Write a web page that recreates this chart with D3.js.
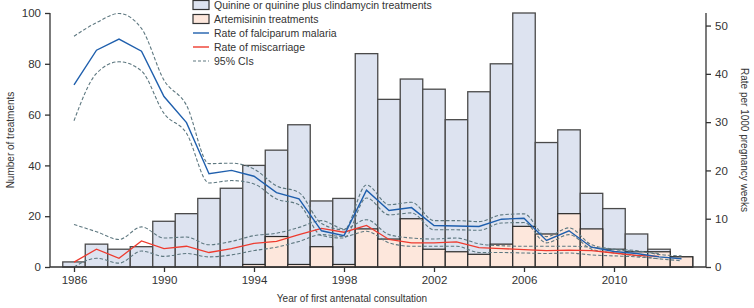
<!DOCTYPE html>
<html><head><meta charset="utf-8">
<script src="https://cdn.jsdelivr.net/npm/d3@7"></script>
<style>
body{margin:0;background:#fff;}
text{font-family:"Liberation Sans","DejaVu Sans",sans-serif;fill:#333;}
</style></head>
<body><svg id="c" width="754" height="308"></svg>
<script>
const years = d3.range(1986, 2014);
const quinine = [2,9,7,8,18,21,27,31,40,46,56,26,27,84,66,74,70,58,69,80,100,49,54,29,23,13,7,4];
const artemisinin = [0,0,0,0,0,0,0,0,1,12,1,8,1,15,11,19,7,6,5,9,16,13,21,15,7,6,6,4];
const malaria = [37.7,44.9,47.2,44.7,35.3,29.9,19.3,20.0,18.8,15.4,14.1,7.5,6.5,15.9,11.7,12.3,8.6,8.5,8.4,9.9,10.1,5.5,7.5,4.1,3.2,2.8,2.1,1.7];
const malariaHi = [47.8,50.6,52.5,49.4,38.7,33.5,21.4,21.5,20.3,16.8,15.4,9.0,7.7,17.0,12.9,13.4,9.6,9.6,9.4,10.8,11.0,6.3,8.1,4.6,3.7,3.4,2.6,2.3];
const malariaLo = [30.3,40.1,42.5,40.6,31.8,27.7,17.4,17.9,17.2,14.1,12.9,6.5,6.0,14.3,10.8,11.2,7.7,7.7,7.6,9.1,9.2,5.0,6.7,3.7,2.9,2.3,1.7,1.3];
const miscarriage = [1.0,3.7,1.8,5.4,3.8,4.3,3.0,3.8,4.9,5.3,6.7,8.0,7.2,8.6,5.7,5.0,5.0,5.2,4.0,3.8,3.6,3.4,3.5,3.4,2.9,2.4,2.2];
const miscarriageHi = [8.8,7.3,5.7,8.3,6.0,6.2,4.6,5.3,6.5,7.0,8.2,9.6,7.9,9.8,6.7,6.0,5.8,6.0,4.8,4.4,4.3,4.3,4.3,4.1,3.6,3.2,2.8];
const miscarriageLo = [0.0,1.8,0.8,3.3,2.2,2.8,2.1,2.5,3.4,4.1,5.3,6.7,6.3,7.4,5.0,4.3,4.3,4.3,3.0,3.0,2.9,2.8,2.9,2.5,2.3,2.1,1.7];
const xTicks = [1986,1990,1994,1998,2002,2006,2010];
const leftTicks = [0,20,40,60,80,100];
const rightTicks = [0,10,20,30,40,50];
const legendLabels = ["Quinine or quinine plus clindamycin treatments","Artemisinin treatments","Rate of falciparum malaria","Rate of miscarriage","95% CIs"];

const svg = d3.select("#c");
const L = 50, R = 706, T = 13, B = 267;
const x = d3.scaleLinear().domain([1986, 2013]).range([74, 681.5]);
const yL = d3.scaleLinear().domain([0, 100]).range([B, T]);
const yR = d3.scaleLinear().domain([0, 52.6]).range([B, T]);
const bw = x(1987) - x(1986);

const cQ = "#dde3f0", cA = "#fde7dc", cBlue = "#1f5fad", cRed = "#ee3b2f", cCI = "#5e7880", cStroke = "#4a4a4a";

// bars
svg.append("g").selectAll("rect").data(years).join("rect")
  .attr("x", (d) => x(d) - bw/2).attr("width", bw)
  .attr("y", (d,i) => yL(quinine[i])).attr("height", (d,i) => B - yL(quinine[i]))
  .attr("fill", cQ).attr("stroke", cStroke).attr("stroke-width", 1.3);
svg.append("g").selectAll("rect").data(years.filter((d,i)=>artemisinin[i]>0)).join("rect")
  .attr("x", (d) => x(d) - bw/2).attr("width", bw)
  .attr("y", (d) => yL(artemisinin[years.indexOf(d)])).attr("height", (d) => B - yL(artemisinin[years.indexOf(d)]))
  .attr("fill", cA).attr("stroke", "#2a2a2a").attr("stroke-width", 1.2);

// lines
const lineR = (arr, curve) => d3.line().x((d,i)=>x(years[i])).y(d=>yR(d)).curve(curve)(arr);
const ciCurve = d3.curveMonotoneX;
[miscarriageHi, miscarriageLo, malariaHi, malariaLo].forEach(a => {
  svg.append("path").attr("d", lineR(a, ciCurve)).attr("fill","none")
    .attr("stroke", cCI).attr("stroke-width", 1.1).attr("stroke-dasharray","3.5,2");
});
svg.append("path").attr("d", lineR(miscarriage, d3.curveLinear)).attr("fill","none").attr("stroke", cRed).attr("stroke-width",1.3);
svg.append("path").attr("d", lineR(malaria, d3.curveLinear)).attr("fill","none").attr("stroke", cBlue).attr("stroke-width",1.4);

// axes
const gL = svg.append("g").attr("transform",`translate(${L},0)`)
  .call(d3.axisLeft(yL).tickValues(leftTicks).tickSize(5).tickPadding(4));
const gR = svg.append("g").attr("transform",`translate(${R},0)`)
  .call(d3.axisRight(yR).tickValues(rightTicks).tickSize(5).tickPadding(4));
const gB = svg.append("g").attr("transform",`translate(0,${B})`)
  .call(d3.axisBottom(x).tickValues(xTicks).tickFormat(d3.format("d")).tickSize(5).tickPadding(4));
gB.select(".domain").attr("d", `M${L},0H${R}`);
[gL,gR,gB].forEach(g => {
  g.selectAll("path.domain, line").attr("stroke","#333").attr("stroke-width",1.3);
  g.selectAll("text").attr("font-size", 11.5).attr("fill","#444").style("font-family","Liberation Sans, sans-serif");
});
gL.select(".domain").attr("d", `M0,${T}V${B}`);
gR.select(".domain").attr("d", `M0,${T}V${B}`);

// titles
svg.append("text").attr("transform",`translate(10,${(T+B)/2}) rotate(-90)`).attr("text-anchor","middle")
  .attr("font-size",10).attr("dy","0.35em").text("Number of treatments");
svg.append("text").attr("transform",`translate(744,${(T+B)/2}) rotate(90)`).attr("text-anchor","middle")
  .attr("font-size",10).attr("dy","0.35em").text("Rate per 1000 pregnancy weeks");
svg.append("text").attr("x", 352).attr("y", 302).attr("text-anchor","middle")
  .attr("font-size",10).text("Year of first antenatal consultation");

// legend
const lx = 193, ly0 = 5, ldy = 14;
const lg = svg.append("g");
legendLabels.forEach((t,i) => {
  const yy = ly0 + i*ldy;
  if (i < 2) {
    lg.append("rect").attr("x",lx).attr("y",yy-4.5).attr("width",16).attr("height",9)
      .attr("fill", i===0?cQ:cA).attr("stroke","#333").attr("stroke-width",1.2);
  } else {
    lg.append("line").attr("x1",lx).attr("x2",lx+16).attr("y1",yy).attr("y2",yy)
      .attr("stroke", i===2?cBlue:i===3?cRed:cCI).attr("stroke-width", i===4?1.1:1.4)
      .attr("stroke-dasharray", i===4?"3,2":null);
  }
  lg.append("text").attr("x", lx+21).attr("y", yy).attr("dy","0.35em").attr("font-size",10.5).text(t);
});
</script></body></html>
